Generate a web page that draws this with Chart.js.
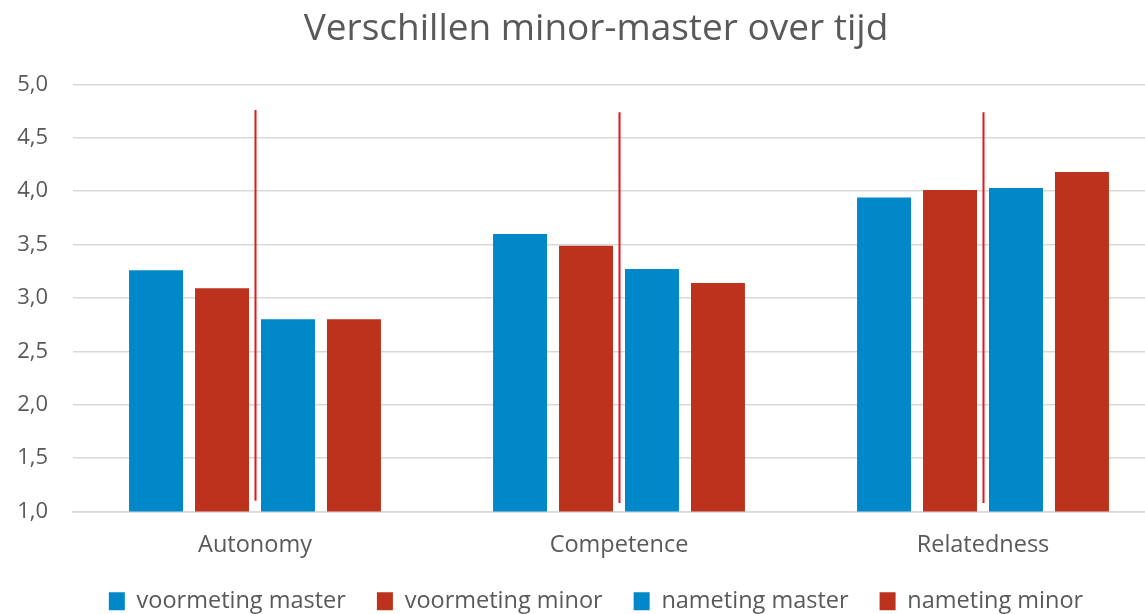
<!DOCTYPE html>
<html>
<head>
<meta charset="utf-8">
<script src="https://cdn.jsdelivr.net/npm/chart.js@4"></script>
<style>
  html, body { margin: 0; padding: 0; overflow: hidden; background: #fff; }
  #wrap { width: 1192px; height: 623px; }
</style>
</head>
<body>
<div id="wrap"><canvas id="chart"></canvas></div>
<script>
// Data
const categories = ['Autonomy', 'Competence', 'Relatedness'];
const voormetingMaster = [3.26, 3.60, 3.94];
const voormetingMinor = [3.09, 3.49, 4.01];
const nametingMaster = [2.80, 3.27, 4.03];
const nametingMinor = [2.80, 3.14, 4.18];
// red divider lines (value range per category)
const markerTop = [4.76, 4.74, 4.74];
const markerBottom = [1.10, 1.08, 1.08];

const blue = '#0088c9';
const red = '#bd321c';
const textColor = '#595959';

Chart.defaults.font.family = '"Open Sans", sans-serif';
Chart.defaults.color = textColor;

// Draw the red vertical lines in the middle of each category
const dividerPlugin = {
    id: 'dividers',
    afterDatasetsDraw(chart) {
        const ctx = chart.ctx;
        const x = chart.scales.x;
        const y = chart.scales.y;
        ctx.save();
        ctx.strokeStyle = '#e3161b';
        ctx.lineWidth = 2;
        categories.forEach((c, i) => {
            const px = Math.round(x.getPixelForValue(i)) + 0.5;
            ctx.beginPath();
            ctx.moveTo(px, y.getPixelForValue(markerTop[i]));
            ctx.lineTo(px, y.getPixelForValue(markerBottom[i]));
            ctx.stroke();
        });
        ctx.restore();
    }
};

const ctx = document.getElementById('chart').getContext('2d');
new Chart(ctx, {
    type: 'bar',
    data: {
        labels: categories,
        datasets: [
            { label: 'voormeting master', data: voormetingMaster, backgroundColor: blue },
            { label: 'voormeting minor', data: voormetingMinor, backgroundColor: red },
            { label: 'nameting master', data: nametingMaster, backgroundColor: blue },
            { label: 'nameting minor', data: nametingMinor, backgroundColor: red }
        ]
    },
    options: {
        responsive: true,
        maintainAspectRatio: false,
        animation: false,
        layout: { padding: 0 },
        datasets: {
            bar: { barPercentage: 0.818, categoryPercentage: 0.725 }
        },
        plugins: {
            title: {
                display: true,
                text: 'Verschillen minor-master over tijd',
                color: textColor,
                font: { size: 37, weight: 'normal' },
                padding: { top: 7, bottom: 33 }
            },
            legend: {
                position: 'bottom',
                labels: {
                    color: textColor,
                    font: { size: 23.5 },
                    boxWidth: 16,
                    boxHeight: 18,
                    padding: 31
                }
            },
            tooltip: { enabled: false }
        },
        scales: {
            x: {
                grid: { display: false, drawTicks: false },
                border: { color: '#d9d9d9', width: 1.5 },
                ticks: { font: { size: 23.5 }, color: textColor, padding: 20 },
                afterFit: s => { s.height = 47; }
            },
            y: {
                min: 1,
                max: 5,
                ticks: {
                    stepSize: 0.5,
                    font: { size: 22 },
                    color: textColor,
                    padding: 25,
                    callback: v => v.toFixed(1).replace('.', ',')
                },
                grid: { color: '#d9d9d9', lineWidth: 1.5, drawTicks: false },
                border: { display: false },
                afterFit: s => { s.width = 73; }
            },
            // empty spacer on the right so the plot runs past the visible edge
            y2: {
                position: 'right',
                ticks: { display: false },
                grid: { display: false, drawTicks: false },
                border: { display: false },
                afterFit: s => { s.width = 27; }
            }
        }
    },
    plugins: [dividerPlugin]
});
</script>
</body>
</html>
